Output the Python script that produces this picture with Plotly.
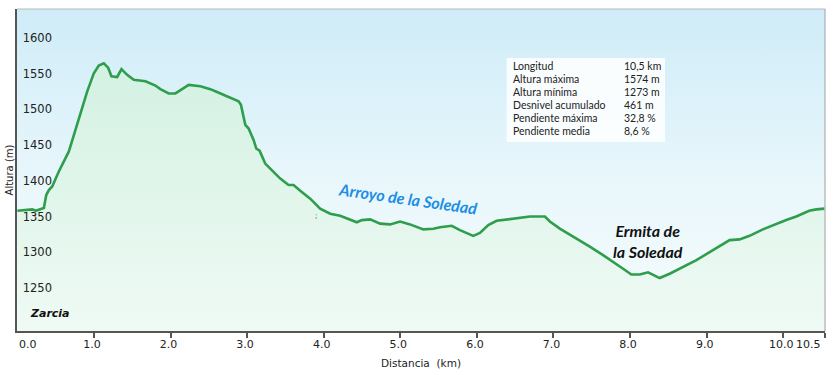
import plotly.graph_objects as go

# ---------------- data ----------------
distance_km = [0.0, 0.196, 0.239, 0.347, 0.378, 0.412, 0.456, 0.542, 0.673, 0.803,
               0.913, 0.999, 1.064, 1.129, 1.186, 1.229, 1.304, 1.360, 1.434, 1.520,
               1.673, 1.803, 1.868, 1.977, 2.064, 2.151, 2.237, 2.390, 2.520, 2.608,
               2.738, 2.889, 2.920, 2.954, 2.977, 3.020, 3.085, 3.120, 3.163, 3.237,
               3.325, 3.433, 3.541, 3.606, 3.694, 3.824, 3.954, 4.085, 4.215, 4.323,
               4.433, 4.498, 4.606, 4.737, 4.867, 4.997, 5.128, 5.301, 5.432, 5.519,
               5.671, 5.779, 5.867, 5.953, 6.040, 6.149, 6.258, 6.389, 6.562, 6.693,
               6.888, 6.953, 7.083, 7.213, 7.344, 7.474, 7.648, 7.778, 7.909, 8.018,
               8.126, 8.235, 8.322, 8.387, 8.517, 8.691, 8.866, 9.082, 9.300, 9.430,
               9.560, 9.734, 9.909, 10.039, 10.170, 10.339, 10.431, 10.539]
altitude_m = [1368, 1370, 1368, 1372, 1390, 1397, 1402, 1423, 1451, 1497,
              1535, 1560, 1571, 1574, 1568, 1556, 1555, 1566, 1558, 1551,
              1549, 1543, 1538, 1532, 1532, 1538, 1544, 1542, 1538, 1534,
              1528, 1521, 1516, 1500, 1488, 1483, 1467, 1455, 1452, 1434,
              1425, 1413, 1404, 1404, 1396, 1385, 1371, 1364, 1361, 1356,
              1352, 1355, 1356, 1350, 1349, 1353, 1349, 1342, 1343, 1345,
              1347, 1341, 1337, 1333, 1337, 1348, 1354, 1356, 1358, 1360,
              1360, 1353, 1343, 1335, 1327, 1318, 1306, 1297, 1287, 1279,
              1279, 1282, 1278, 1274, 1280, 1290, 1299, 1313, 1327, 1328,
              1333, 1342, 1350, 1355, 1360, 1368, 1370, 1371]

x_tick_values = [0, 1, 2, 3, 4, 5, 6, 7, 8, 9, 10, 10.54]
x_tick_labels = ["0.0", "1.0", "2.0", "3.0", "4.0", "5.0", "6.0", "7.0", "8.0", "9.0", "10.0", "10.5"]
y_tick_values = [1250, 1300, 1350, 1400, 1450, 1500, 1550, 1600]

stats_labels = ["Longitud", "Altura máxima", "Altura mínima", "Desnivel acumulado",
                "Pendiente máxima", "Pendiente media"]
stats_values = ["10,5 km", "1574 m", "1273 m", "461 m", "32,8 %", "8,6 %"]

place_names = ["Zarcia", "Arroyo de la Soledad", "Ermita de<br>la Soledad"]
place_km = [0.43, 5.10, 8.23]
place_alt = [1225, 1385, 1326]

X_MIN, X_MAX = -0.004, 10.545
Y_MIN, Y_MAX = 1200, 1650

fig = go.Figure()

# background gradient of the plot area
fig.add_trace(go.Scatter(
    x=[X_MIN, X_MAX], y=[Y_MAX, Y_MAX], mode="lines", line=dict(width=0),
    fill="tozeroy",
    fillgradient=dict(type="vertical", start=Y_MIN, stop=Y_MAX,
                      colorscale=[[0, "#f6fcfd"], [0.45, "#e9f7fb"], [1, "#cfecf8"]]),
    hoverinfo="skip", showlegend=False))

# elevation profile
fig.add_trace(go.Scatter(
    x=distance_km, y=altitude_m, mode="lines",
    line=dict(color="#2e9e4c", width=2.6),
    fill="tozeroy",
    fillgradient=dict(type="vertical", start=Y_MIN, stop=1580,
                      colorscale=[[0, "#effaf4"], [1, "#d3f1e2"]]),
    showlegend=False))

# inner tick labels: end labels are aligned inward like the reference
axis_text = [("" if i in (0, len(x_tick_labels) - 1) else t) for i, t in enumerate(x_tick_labels)]

annotations = []
tick_font = dict(family="DejaVu Sans", size=11, color="#222")
annotations.append(dict(x=x_tick_values[0], xref="x", y=-0.043, yref="paper",
                        text=x_tick_labels[0], showarrow=False, xanchor="left",
                        yanchor="middle", xshift=0, font=tick_font))
annotations.append(dict(x=x_tick_values[-1], xref="x", y=-0.043, yref="paper",
                        text=x_tick_labels[-1], showarrow=False, xanchor="right",
                        yanchor="middle", xshift=-2, font=tick_font))

# place names
annotations.append(dict(x=place_km[0], y=place_alt[0], text="<b><i>" + place_names[0] + "</i></b>",
                        showarrow=False, font=dict(family="DejaVu Sans", size=11, color="#111")))
annotations.append(dict(x=place_km[1], y=place_alt[1], text="<b><i>" + place_names[1] + "</i></b>",
                        showarrow=False, textangle=8,
                        font=dict(family="Lato", size=16, color="#1c8ee6")))
annotations.append(dict(x=place_km[2], y=place_alt[2], text="<b><i>" + place_names[2] + "</i></b>",
                        showarrow=False, font=dict(family="Lato", size=16, color="#111")))
annotations.append(dict(x=3.90, y=1361, text=";", showarrow=False,
                        font=dict(family="DejaVu Sans", size=7, color="#222")))

# stats box text
row_px = [66, 79.3, 92.5, 105.2, 117.9, 130.6]
for lab, val, ypx in zip(stats_labels, stats_values, row_px):
    yp = (331 - ypx) / 322
    annotations.append(dict(xref="paper", yref="paper", x=0.611, y=yp, xanchor="left",
                            yanchor="middle", text=lab, showarrow=False,
                            font=dict(family="Lato", size=10.5, color="#222")))
    annotations.append(dict(xref="paper", yref="paper", x=0.749, y=yp, xanchor="left",
                            yanchor="middle", text=val, showarrow=False,
                            font=dict(family="Lato", size=10.5, color="#222")))

shapes = [
    dict(type="rect", xref="paper", yref="paper", x0=0.606, x1=0.802, y0=0.587, y1=0.848,
         fillcolor="rgba(255,255,255,0.85)", line=dict(width=0), layer="above"),
    dict(type="line", xref="paper", yref="paper", x0=0, x1=1, y0=1, y1=1,
         line=dict(color="#b4bcc2", width=1.2)),
    dict(type="line", xref="paper", yref="paper", x0=1, x1=1, y0=0, y1=1,
         line=dict(color="#a9afb3", width=1.2)),
]

fig.update_layout(
    width=835, height=375,
    margin=dict(l=17, r=10, t=9, b=44),
    paper_bgcolor="white", plot_bgcolor="white",
    annotations=annotations, shapes=shapes,
    font=dict(family="DejaVu Sans", color="#222"),
    xaxis=dict(range=[X_MIN, X_MAX], tickvals=x_tick_values, ticktext=axis_text,
               automargin=False,
               ticks="outside", ticklen=5, tickcolor="#555", tickwidth=1.5,
               ticklabelstandoff=-3, ticklabelshift=-2,
               showline=True, linecolor="#555", linewidth=2,
               showgrid=False, zeroline=False,
               tickfont=tick_font,
               title=dict(text="Distancia\u00a0 (km)", standoff=9,
                          font=dict(family="DejaVu Sans", size=10.5, color="#222"))),
    yaxis=dict(range=[Y_MIN, Y_MAX], tickvals=y_tick_values, automargin=False,
               ticklabelposition="inside", ticks="", ticklabelshift=-7, ticklabelstandoff=5,
               showline=True, linecolor="#555", linewidth=2,
               showgrid=True, gridcolor="#a9b3b8", gridwidth=1.5, zeroline=False,
               tickfont=dict(family="DejaVu Sans", size=11.5, color="#222"),
               title=dict(text="Altura (m)", standoff=7,
                          font=dict(family="DejaVu Sans", size=10, color="#222"))),
)

fig.write_html("out.html", config={"displayModeBar": False},
               post_script="document.body.style.margin='0px';")
